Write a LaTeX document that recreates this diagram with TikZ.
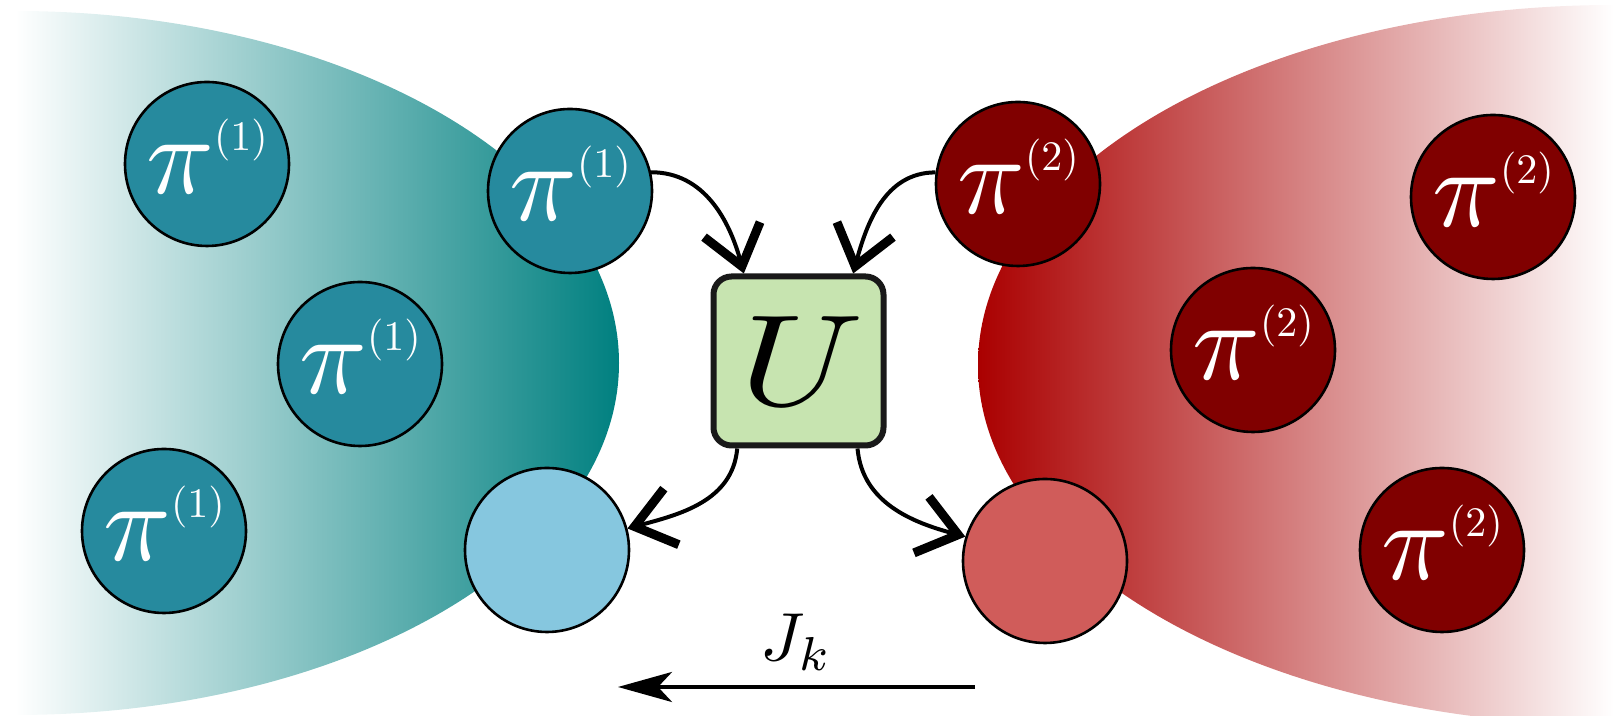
\documentclass[tikz,border=0pt]{standalone}
\usepackage{graphicx}
\usetikzlibrary{arrows.meta,positioning}

\definecolor{piblue}{RGB}{38,138,158}
\definecolor{emptyblue}{RGB}{134,199,223}
\definecolor{pired}{RGB}{128,0,0}
\definecolor{emptyred}{RGB}{208,92,90}
\definecolor{gatefill}{RGB}{199,228,176}
\definecolor{bathteal}{RGB}{0,128,128}
\definecolor{bathred}{RGB}{170,0,0}

\newcommand{\pilab}[1]{\scalebox{5.6}{$\pi$}\raisebox{21.5pt}{\scalebox{2.1}{$(#1)$}}}

\begin{document}
\begin{tikzpicture}[x=0.5pt, y=0.5pt,
		pione/.style={circle, draw, line width=1.3pt, fill=piblue, text=white,
				minimum size=82pt, inner sep=0pt, text depth=7.5pt},
		pitwo/.style={pione, fill=pired},
		emptyone/.style={pione, fill=emptyblue},
		emptytwo/.style={pione, fill=emptyred},
		gate/.style={rectangle, rounded corners=9pt, draw=black!90, line width=3pt,
				fill=gatefill, minimum width=85pt, minimum height=84.5pt},
		flow/.style={line width=2pt,
				-{Straight Barb[length=19pt, width=29pt, line width=4.5pt]}},
		current/.style={line width=2pt, -{Stealth[length=27pt, width=15pt, inset=7pt]}}]
		% Frame of the picture
		\useasboundingbox (0,0) rectangle (1614,716);

		% Baths fading out to both sides
		\shade[left color=white, right color=bathteal]
		(15,705) arc[start angle=90, end angle=-90, x radius=604, y radius=352] -- cycle;
		\shade[left color=bathred, right color=white]
		(1614,711) arc[start angle=90, end angle=270, x radius=636, y radius=360] -- cycle;

		% Particles of the first bath
		\foreach \n/\x/\y in {a1/207/552, a2/570/525, a3/360/352, a4/164/185} {
				\node[pione] (\n) at (\x, \y) {\pilab{1}};
			}

		% Particles of the second bath
		\foreach \n/\x/\y in {c1/1018/532, c2/1493/519, c3/1253/366, c4/1442/166} {
				\node[pitwo] (\n) at (\x, \y) {\pilab{2}};
			}

		% Emptied sites
		\node[emptyone] (b1) at (547,166) {};
		\node[emptytwo] (d1) at (1045,155) {};

		% Unitary between the baths
		\node[gate] (gate) at (798.5,355) {\kern4pt\scalebox{7.8}[6.5]{$U$}};

		\draw[flow] (a2.13) to[out=0, in=105] (gate.122);
		\draw[flow] (c1.172) to[out=180, in=75] (gate.58);
		\draw[flow] (gate.-125) to[out=-95, in=15] (b1.15);
		\draw[flow] (gate.-56) to[out=-85, in=165] (d1.163);

		% Current below
		\coordinate (jstart) at (975,29);
		\coordinate (jend) at (618,29);
		\draw[current] (jstart) -- node[above=4pt] (jlabel) {\scalebox{3.4}{$J_k$}} (jend);
	\end{tikzpicture}
\end{document}
